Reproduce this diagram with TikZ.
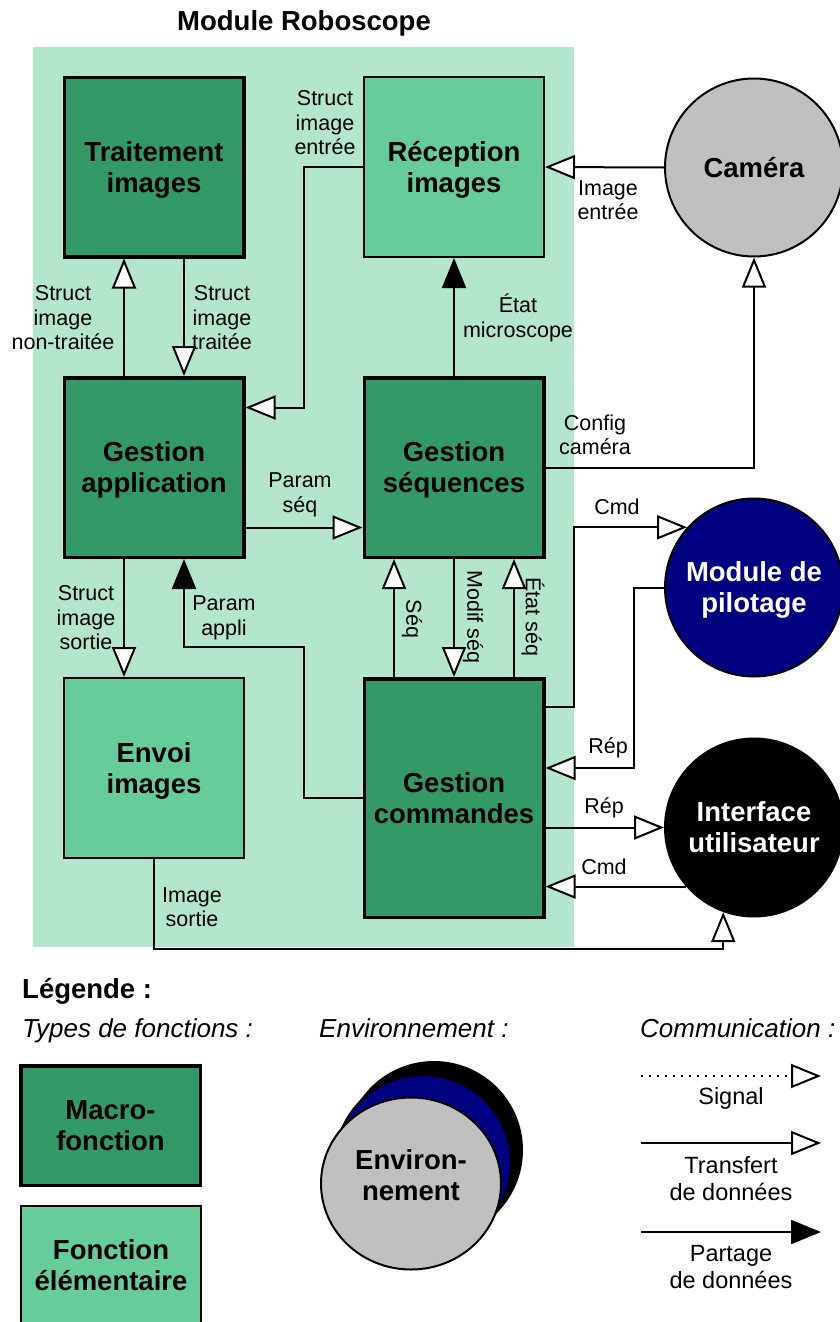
\documentclass[tikz,border=0pt]{standalone}
\usepackage{fontspec}
\setmainfont{Liberation Sans}
\usetikzlibrary{arrows.meta}

\definecolor{macrogreen}{HTML}{339966}
\definecolor{elemgreen}{HTML}{66CC99}
\definecolor{modulegreen}{HTML}{B3E6CC}
\definecolor{pilotblue}{HTML}{000080}
\definecolor{envgray}{HTML}{C0C0C0}

\newcommand{\boldtxt}{\fontsize{27.5}{31}\selectfont\bfseries}
\newcommand{\lbltxt}{\fontsize{21.5}{24.5}\selectfont}
\newcommand{\legtxt}{\fontsize{23.5}{27}\selectfont}
\newcommand{\headtxt}{\fontsize{26}{30}\selectfont\itshape}

\tikzset{
	macrobox/.style={draw=black, fill=macrogreen, line width=3.5pt, minimum width=179.5pt, minimum height=179.5pt, inner sep=0pt, align=center, text depth=0pt, font=\boldtxt},
	elembox/.style={draw=black, fill=elemgreen, line width=2pt, minimum width=180pt, minimum height=180pt, inner sep=0pt, align=center, text depth=0pt, font=\boldtxt},
	envcircle/.style={circle, draw=black, line width=2pt, minimum size=178pt, inner sep=0pt, align=center, text depth=0pt, font=\boldtxt},
	linklabel/.style={align=center, font=\lbltxt, inner sep=0pt},
	leglabel/.style={align=center, font=\legtxt, inner sep=0pt},
	transfer/.style={line width=2pt, -{Triangle[length=30pt, width=24pt, fill=white]}},
	sharing/.style={line width=2pt, -{Triangle[length=30pt, width=24pt]}},
	signal/.style={line width=1.5pt, dash pattern=on 1.5pt off 6.5pt, -{Triangle[length=30pt, width=24pt, fill=white, line width=2pt]}},
}

\begin{document}
\begin{tikzpicture}[x=1pt, y=-1pt]
	%%%%% START %%%%%
	\useasboundingbox (0,0) rectangle (840,1322);
	
	% module
	\fill[modulegreen] (33,47) rectangle (574,947);
	\node[font=\boldtxt] (titre) at (304,23) {Module Roboscope};
	
	\node[macrobox] (trait) at (154,167) {Traitement\\images};
	\node[elembox] (recep) at (454,167) {Réception\\images};
	\node[macrobox] (gapp) at (154,467.5) {Gestion\\application};
	\node[macrobox] (gseq) at (454,467.5) {Gestion\\séquences};
	\node[elembox] (envoi) at (154,768) {Envoi\\images};
	\node[macrobox, minimum height=238.5pt] (gcmd) at (454,798) {Gestion\\commandes};
	
	% environnement
	\node[envcircle, fill=envgray] (cam) at (754,167.5) {Caméra};
	\node[envcircle, fill=pilotblue, text=white] (pilot) at (754,587.5) {Module de\\pilotage};
	\node[envcircle, fill=black, text=white] (iface) at (754,827.5) {Interface\\utilisateur};
	
	% liens
	\draw[transfer] ([xshift=-30pt]gapp.north) -- ([xshift=-30pt]trait.south);
	\draw[transfer] ([xshift=30pt]trait.south) -- ([xshift=30pt]gapp.north);
	\draw[transfer] (recep.west) -- ++(-59,0) |- ([yshift=60pt]gapp.east);
	\draw[transfer] (cam.west) -- (recep.east);
	\draw[sharing] (gseq.north) -- (recep.south);
	\draw[transfer] ([yshift=-60pt]gapp.east) -- ([yshift=-60pt]gseq.west);
	\draw[transfer] (gseq.east) -| (cam.south);
	\draw[transfer] ([xshift=-30pt]gapp.south) -- ([xshift=-30pt]envoi.north);
	\coordinate (appli) at (304,647);
	\draw[sharing] (gcmd.west) -| (appli) -| ([xshift=30pt]gapp.south);
	\draw[transfer] ([xshift=-60pt]gcmd.north) -- ([xshift=-60pt]gseq.south);
	\draw[transfer] (gseq.south) -- (gcmd.north);
	\draw[transfer] ([xshift=60pt]gcmd.north) -- ([xshift=60pt]gseq.south);
	\draw[transfer] ([yshift=-30pt]gcmd.north east) -- ++(28,0) |- (pilot.138.2);
	\draw[transfer] (pilot.west) -- ++(-30,0) |- ([yshift=30pt]gcmd.east);
	\draw[transfer] (gcmd.east |- iface.west) -- (iface.west);
	\draw[transfer] (iface.221.8) -- (gcmd.east |- iface.221.8);
	\draw[transfer] (envoi.south) -- ++(0,90) -| (iface.250.5);
	
	\node[linklabel] (l_nontrait) at (63,318) {Struct\\image\\non-traitée};
	\node[linklabel] (l_trait) at (222,318) {Struct\\image\\traitée};
	\node[linklabel] (l_entree) at (325,123) {Struct\\image\\entrée};
	\node[linklabel] (l_imgin) at (608,200) {Image\\entrée};
	\node[linklabel] (l_etatmic) at (518,318) {État\\microscope};
	\node[linklabel] (l_paramseq) at (300,495) {Param\\séq};
	\node[linklabel] (l_config) at (595,435) {Config\\caméra};
	\node[linklabel] (l_sortie) at (86,618) {Struct\\image\\sortie};
	\node[linklabel] (l_appli) at (224,618) {Param\\appli};
	\node[linklabel, rotate=-90] (l_seq) at (412,619) {Séq};
	\node[linklabel, rotate=-90] (l_modif) at (473,617) {Modif séq};
	\node[linklabel, rotate=-90] (l_etatseq) at (533,617) {État séq};
	\node[linklabel] (l_cmdpil) at (617,507) {Cmd};
	\node[linklabel] (l_reppil) at (608,748) {Rép};
	\node[linklabel] (l_repint) at (604,808) {Rép};
	\node[linklabel] (l_cmdint) at (604,867) {Cmd};
	\node[linklabel] (l_imgout) at (192,907) {Image\\sortie};
	
	% legende
	\node[font=\boldtxt, anchor=west, inner sep=0pt] (legende) at (22,991) {Légende :};
	\node[font=\headtxt, anchor=west, inner sep=0pt] (h_types) at (22,1031) {Types de fonctions :};
	\node[font=\headtxt, anchor=west, inner sep=0pt] (h_env) at (319,1028) {Environnement :};
	\node[font=\headtxt, anchor=west, inner sep=0pt] (h_comm) at (640,1028) {Communication :};
	
	\node[macrobox, minimum height=119.5pt] (legmacro) at (110.5,1125.5) {Macro-\\fonction};
	\node[elembox, minimum height=120pt] (legelem) at (111,1265.5) {Fonction\\élémentaire};
	
	\draw[line width=2pt, fill=black] (434,1150) circle (88);
	\draw[line width=2pt, fill=pilotblue] (423,1163) circle (88);
	\draw[line width=2pt, fill=envgray] (411,1183.5) ellipse [x radius=90, y radius=86];
	\node[font=\boldtxt, align=center] (legenv) at (411,1175) {Environ-\\nement};
	
	\coordinate (sigA) at (641,1076);
	\coordinate (sigB) at (821,1076);
	\coordinate (trfA) at (641,1143);
	\coordinate (trfB) at (821,1143);
	\coordinate (prtA) at (641,1232);
	\coordinate (prtB) at (821,1232);
	\draw[signal] (sigA) -- (sigB);
	\draw[transfer] (trfA) -- (trfB);
	\draw[sharing] (prtA) -- (prtB);
	\node[leglabel] (l_signal) at (731,1098) {Signal};
	\node[leglabel] (l_transfert) at (731,1179) {Transfert\\de données};
	\node[leglabel] (l_partage) at (731,1267) {Partage\\de données};
	%%%%% END %%%%%
\end{tikzpicture}
\end{document}
